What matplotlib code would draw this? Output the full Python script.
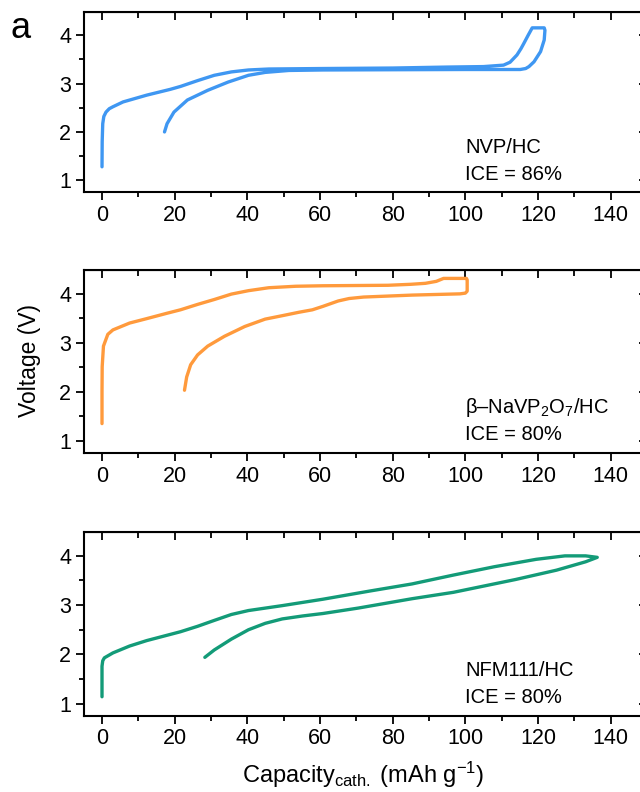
import matplotlib
matplotlib.use("Agg")
import numpy as np
from matplotlib import pyplot as plt
from matplotlib.ticker import MultipleLocator

plt.rcParams['font.family'] = ['Liberation Sans', 'DejaVu Sans']
plt.rcParams['mathtext.fontset'] = 'custom'
plt.rcParams['mathtext.rm'] = 'Liberation Sans'
plt.rcParams['mathtext.it'] = 'Liberation Sans'

# NVP/HC : charge puis decharge (capacite mAh/g, tension V)
nvp_cap = [0, 0.05, 0.2, 0.5, 1.1, 2, 3, 5.8, 12.3, 18.8, 21.6, 26.3, 30.9, 35.6, 40.3, 45.9, 60.8, 80, 95, 105,
           110.5, 112.3, 114.2, 115.3, 116.1, 117.3, 118.4, 121.7,
           121.9, 121.7, 120.7, 118.9, 117.5, 116.6, 115.1, 100, 80, 60.8, 51.4, 44.9, 40.3, 34.7, 29.1, 23.5,
           19.8, 17.9, 17.2]
nvp_v = [1.28, 1.8, 2.17, 2.32, 2.41, 2.48, 2.52, 2.62, 2.76, 2.88, 2.94, 3.06, 3.17, 3.24, 3.28, 3.30, 3.31, 3.32,
         3.34, 3.35, 3.38, 3.44, 3.59, 3.72, 3.83, 4.0, 4.15, 4.15,
         4.1, 3.9, 3.66, 3.45, 3.35, 3.31, 3.29, 3.29, 3.285, 3.28, 3.27, 3.23, 3.17, 3.03, 2.86, 2.66,
         2.41, 2.17, 2.0]

# beta-NaVP2O7/HC
navp_cap = [0, 0, 0.05, 0.4, 1.6, 3, 7.6, 12.3, 17.9, 21.6, 26.3, 30.9, 35.6, 40.3, 45.9, 53.3, 60.8, 78.7, 85, 89,
            92, 94, 100.3,
            100.5, 100.5, 100, 98.5, 85.4, 72, 68, 65, 60.8, 57.9, 54.2, 49.6, 44.9, 39.3, 33.7, 29.1, 26.3, 24.4,
            23.3, 22.7]
navp_v = [1.35, 2.0, 2.51, 2.93, 3.17, 3.26, 3.40, 3.49, 3.60, 3.67, 3.78, 3.88, 3.99, 4.06, 4.12, 4.15, 4.16, 4.17,
          4.19, 4.21, 4.25, 4.31, 4.31,
          4.28, 4.05, 4.01, 3.995, 3.97, 3.93, 3.9, 3.85, 3.74, 3.67, 3.62, 3.55, 3.48, 3.33, 3.13, 2.93, 2.75, 2.55,
          2.30, 2.03]

# NFM111/HC
nfm_cap = [0, 0, 0.2, 0.65, 3, 7.6, 12.3, 21.6, 26.3, 30.9, 35.6, 40.3, 49.6, 60.8, 74, 85.3, 96.7, 108, 119.5,
           127.4, 133.1, 136.3,
           133.1, 125.1, 113.8, 96.7, 85.3, 70.5, 60.8, 55.2, 49.6, 44.9, 40.3, 35.6, 30.9, 28.3]
nfm_v = [1.14, 1.76, 1.87, 1.93, 2.03, 2.17, 2.28, 2.46, 2.57, 2.69, 2.81, 2.89, 2.99, 3.12, 3.29, 3.43, 3.61, 3.78,
         3.93, 4.0, 4.0, 3.97,
         3.88, 3.71, 3.52, 3.26, 3.13, 2.94, 2.83, 2.78, 2.72, 2.63, 2.50, 2.31, 2.09, 1.94]

panneaux = [
    (nvp_cap, nvp_v, '#3f97f2', 'NVP/HC', 'ICE = 86%'),
    (navp_cap, navp_v, '#ff9a3c', r'β–NaVP$_2$O$_7$/HC', 'ICE = 80%'),
    (nfm_cap, nfm_v, '#139b78', 'NFM111/HC', 'ICE = 80%'),
]

fig = plt.figure(figsize=(6.4, 7.92), dpi=100)
positions = [(0.131, 0.757, 0.88, 0.228), (0.131, 0.428, 0.88, 0.231), (0.131, 0.096, 0.88, 0.232)]

for (cap, v, couleur, nom, ice), pos in zip(panneaux, positions):
    ax = fig.add_axes(pos)
    ax.plot(cap, v, '-', color=couleur, linewidth=2.4, solid_joinstyle='round', solid_capstyle='round')
    ax.set_xlim(-5, 150)
    ax.set_ylim(0.75, 4.48)
    ax.xaxis.set_major_locator(MultipleLocator(20))
    ax.xaxis.set_minor_locator(MultipleLocator(10))
    ax.yaxis.set_major_locator(MultipleLocator(1))
    ax.yaxis.set_minor_locator(MultipleLocator(0.5))
    ax.tick_params(which='both', direction='out', width=1.3, labelsize=15.5, pad=3)
    ax.tick_params(which='major', length=6)
    ax.tick_params(which='minor', length=3.5)
    for s in ax.spines.values():
        s.set_linewidth(1.5)
    haut = ax.secondary_xaxis('top')
    haut.xaxis.set_major_locator(MultipleLocator(20))
    haut.xaxis.set_minor_locator(MultipleLocator(10))
    haut.tick_params(which='both', direction='in', width=1.3, labeltop=False)
    haut.tick_params(which='major', length=6)
    haut.tick_params(which='minor', length=4.5)
    droite = ax.secondary_yaxis('right')
    droite.yaxis.set_major_locator(MultipleLocator(1))
    droite.yaxis.set_minor_locator(MultipleLocator(0.5))
    droite.tick_params(which='both', direction='in', width=1.3, labelright=False)
    droite.tick_params(which='major', length=6)
    droite.tick_params(which='minor', length=4.5)
    ax.text(100.0, 1.68, nom, fontsize=14.5, va='center', ha='left')
    ax.text(100.0, 1.13, ice, fontsize=14.5, va='center', ha='left')

fig.text(0.032, 0.964, 'a', fontsize=26, va='center', ha='center')
fig.text(0.046, 0.545, 'Voltage (V)', fontsize=16.5, rotation=90, va='center', ha='center')
fig.text(0.567, 0.022, r'Capacity$_{\mathrm{cath.}}$ (mAh g$^{\mathrm{-1}}$)', fontsize=17, va='center', ha='center')

plt.savefig('out.png', dpi=100)
